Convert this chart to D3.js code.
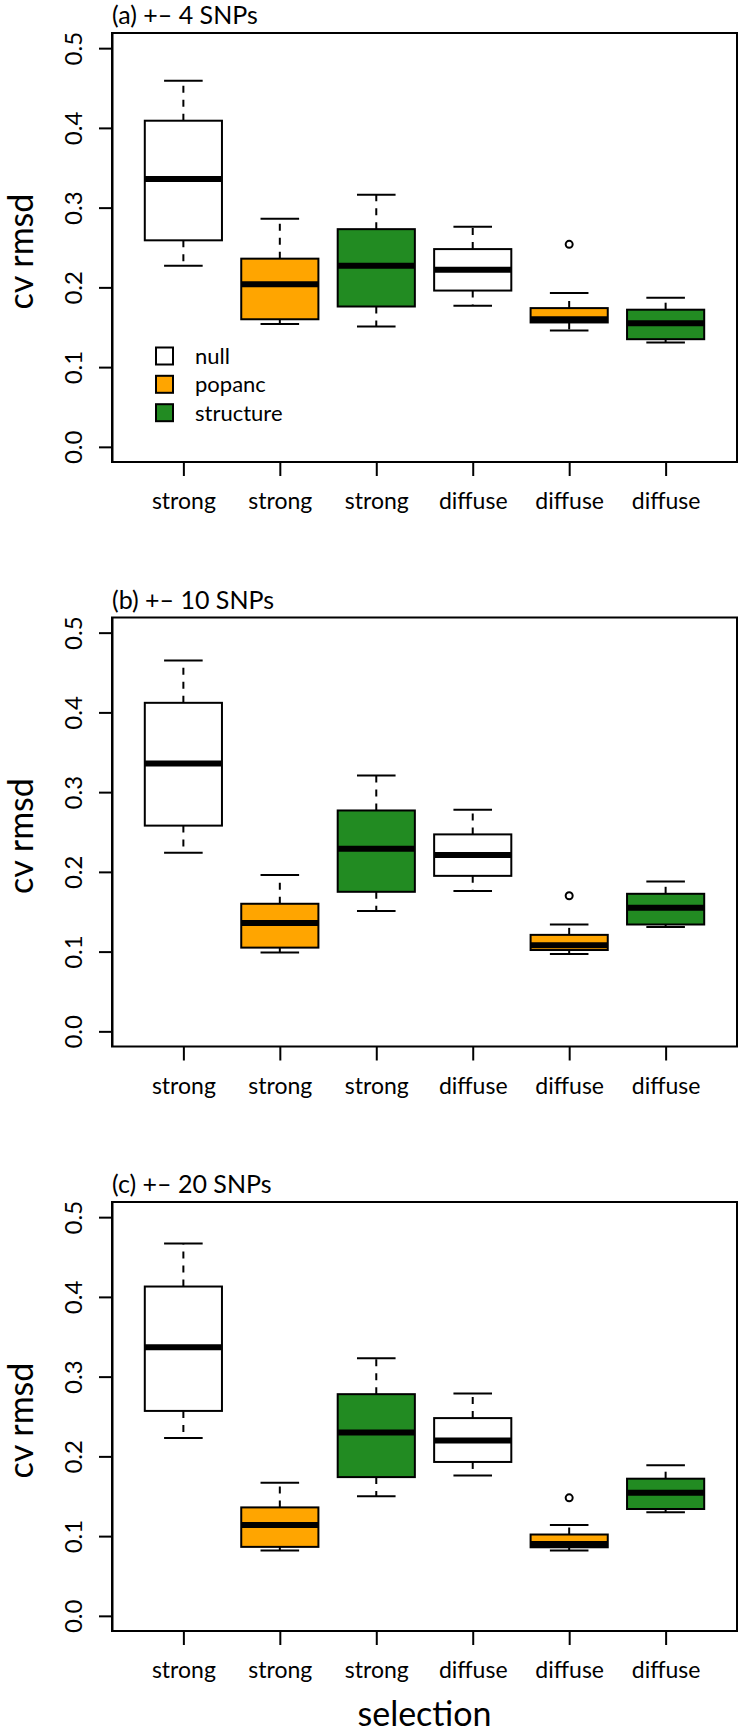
<!DOCTYPE html>
<html>
<head>
<meta charset="utf-8">
<script src="https://cdn.jsdelivr.net/npm/d3@7"></script>
<style>
  html, body { margin: 0; padding: 0; background: #fff; }
  svg { display: block; }
  text { font-family: Lato, "Open Sans", sans-serif; fill: #000; }
</style>
</head>
<body>
<svg id="chart" width="741" height="1733"></svg>
<script>
// ---- data ----
const categories = ["strong", "strong", "strong", "diffuse", "diffuse", "diffuse"];
const methods = ["null", "popanc", "structure", "null", "popanc", "structure"];
const legendLabels = ["null", "popanc", "structure"];
const panelTitles = ["(a) +\u2013 4 SNPs", "(b) +\u2013 10 SNPs", "(c) +\u2013 20 SNPs"];
const yTicks = [0.0, 0.1, 0.2, 0.3, 0.4, 0.5];
const yTickLabels = ["0.0", "0.1", "0.2", "0.3", "0.4", "0.5"];
const yLabel = "cv rmsd";
const xLabel = "selection";

// panel (a) +- 4 SNPs
const aLow  = [0.227, 0.154, 0.151, 0.177, 0.146, 0.131];
const aQ1   = [0.259, 0.160, 0.176, 0.196, 0.156, 0.135];
const aMed  = [0.336, 0.204, 0.227, 0.222, 0.160, 0.155];
const aQ3   = [0.409, 0.236, 0.273, 0.248, 0.174, 0.172];
const aHigh = [0.459, 0.286, 0.316, 0.276, 0.193, 0.187];
const aOut  = [[], [], [], [], [0.254], []];

// panel (b) +- 10 SNPs
const bLow  = [0.224, 0.099, 0.151, 0.176, 0.097, 0.131];
const bQ1   = [0.258, 0.105, 0.175, 0.195, 0.102, 0.134];
const bMed  = [0.336, 0.136, 0.229, 0.221, 0.108, 0.155];
const bQ3   = [0.412, 0.160, 0.277, 0.247, 0.121, 0.1725];
const bHigh = [0.465, 0.196, 0.321, 0.278, 0.134, 0.188];
const bOut  = [[], [], [], [], [0.170], []];

// panel (c) +- 20 SNPs
const cLow  = [0.223, 0.082, 0.150, 0.176, 0.082, 0.130];
const cQ1   = [0.257, 0.0865, 0.174, 0.193, 0.086, 0.134];
const cMed  = [0.337, 0.114, 0.230, 0.220, 0.090, 0.1545];
const cQ3   = [0.413, 0.136, 0.278, 0.248, 0.102, 0.172];
const cHigh = [0.467, 0.167, 0.323, 0.279, 0.114, 0.189];
const cOut  = [[], [], [], [], [0.148], []];

// ---- build ----
const colorOf = { "null": "#ffffff", "popanc": "#ffa500", "structure": "#228b22" };

function makeBoxes(low, q1, med, q3, high, out) {
  return categories.map((c, i) => ({
    idx: i + 1, cat: c, method: methods[i],
    low: low[i], q1: q1[i], med: med[i], q3: q3[i], high: high[i], out: out[i]
  }));
}
const panels = [
  { title: panelTitles[0], boxes: makeBoxes(aLow, aQ1, aMed, aQ3, aHigh, aOut), legend: true },
  { title: panelTitles[1], boxes: makeBoxes(bLow, bQ1, bMed, bQ3, bHigh, bOut), legend: false },
  { title: panelTitles[2], boxes: makeBoxes(cLow, cQ1, cMed, cQ3, cHigh, cOut), legend: false }
];

const svg = d3.select("#chart");
const left = 112, right = 737, plotH = 429;
const panelTops = [33, 617.5, 1202];

const x = d3.scaleLinear().domain([0.26, 6.74]).range([left, right]);
const boxHalf = 0.4, capHalf = 0.2;

panels.forEach((p, pi) => {
  const top = panelTops[pi];
  const y = d3.scaleLinear().domain([-0.019, 0.519]).range([top + plotH, top]);
  const g = svg.append("g");

  // title
  g.append("text")
    .attr("x", left).attr("y", top - 9)
    .attr("font-size", 25)
    .text(p.title);

  // y axis
  const yAxis = d3.axisLeft(y).tickValues(yTicks)
    .tickFormat((d, i) => yTickLabels[i]).tickSize(13).tickSizeOuter(0);
  const ya = g.append("g").attr("transform", `translate(${left},0)`).call(yAxis);
  ya.select(".domain").attr("stroke-width", 2).attr("stroke", "#000");
  ya.selectAll(".tick line").attr("stroke-width", 2).attr("stroke", "#000");
  ya.selectAll(".tick text")
    .attr("font-size", 24)
    .attr("font-family", "Lato, sans-serif")
    .attr("fill", "#000")
    .attr("x", 0).attr("dy", 0)
    .attr("text-anchor", "middle")
    .attr("transform", "translate(-30,0) rotate(-90)");

  // x axis
  const xAxis = d3.axisBottom(x).tickValues(p.boxes.map(b => b.idx))
    .tickFormat((d, i) => categories[i]).tickSize(14).tickSizeOuter(0);
  const xa = g.append("g").attr("transform", `translate(0,${top + plotH})`).call(xAxis);
  xa.select(".domain").remove();
  xa.selectAll(".tick line").attr("stroke-width", 2).attr("stroke", "#000");
  xa.selectAll(".tick text")
    .attr("font-size", 23)
    .attr("font-family", "Lato, sans-serif")
    .attr("fill", "#000")
    .attr("y", 47).attr("dy", 0);

  // y label
  g.append("text")
    .attr("transform", `translate(33,${top + plotH / 2 + 4}) rotate(-90)`)
    .attr("text-anchor", "middle")
    .attr("font-size", 34)
    .text(yLabel);

  // boxes
  const bx = g.selectAll(".bx").data(p.boxes).enter().append("g");
  // whiskers (dashed) from box edges outward
  bx.append("line")
    .attr("x1", d => x(d.idx)).attr("x2", d => x(d.idx))
    .attr("y1", d => y(d.q3)).attr("y2", d => y(d.high))
    .attr("stroke", "#000").attr("stroke-width", 2).attr("stroke-dasharray", "7,7");
  bx.append("line")
    .attr("x1", d => x(d.idx)).attr("x2", d => x(d.idx))
    .attr("y1", d => y(d.q1)).attr("y2", d => y(d.low))
    .attr("stroke", "#000").attr("stroke-width", 2).attr("stroke-dasharray", "7,7");
  // caps
  bx.append("line")
    .attr("x1", d => x(d.idx - capHalf)).attr("x2", d => x(d.idx + capHalf))
    .attr("y1", d => y(d.high)).attr("y2", d => y(d.high))
    .attr("stroke", "#000").attr("stroke-width", 2);
  bx.append("line")
    .attr("x1", d => x(d.idx - capHalf)).attr("x2", d => x(d.idx + capHalf))
    .attr("y1", d => y(d.low)).attr("y2", d => y(d.low))
    .attr("stroke", "#000").attr("stroke-width", 2);
  // box
  bx.append("rect")
    .attr("x", d => x(d.idx - boxHalf))
    .attr("width", d => x(d.idx + boxHalf) - x(d.idx - boxHalf))
    .attr("y", d => y(d.q3))
    .attr("height", d => y(d.q1) - y(d.q3))
    .attr("fill", d => colorOf[d.method])
    .attr("stroke", "#000").attr("stroke-width", 2);
  // median
  bx.append("line")
    .attr("x1", d => x(d.idx - boxHalf)).attr("x2", d => x(d.idx + boxHalf))
    .attr("y1", d => y(d.med)).attr("y2", d => y(d.med))
    .attr("stroke", "#000").attr("stroke-width", 6);
  // outliers
  bx.selectAll(".out").data(d => d.out.map(v => ({ idx: d.idx, v }))).enter()
    .append("circle")
    .attr("cx", d => x(d.idx)).attr("cy", d => y(d.v))
    .attr("r", 3.5).attr("fill", "none").attr("stroke", "#000").attr("stroke-width", 2);

  // plot frame
  g.append("rect")
    .attr("x", left).attr("y", top)
    .attr("width", right - left).attr("height", plotH)
    .attr("fill", "none").attr("stroke", "#000").attr("stroke-width", 2);

  // legend
  if (p.legend) {
    const ly = [356, 384.3, 412.7].map(v => v - 33 + top);
    const lg = g.selectAll(".lg").data(legendLabels).enter().append("g");
    lg.append("rect")
      .attr("x", 156).attr("y", (d, i) => ly[i] - 8.5)
      .attr("width", 17).attr("height", 17)
      .attr("fill", d => colorOf[d]).attr("stroke", "#000").attr("stroke-width", 2);
    lg.append("text")
      .attr("x", 195).attr("y", (d, i) => ly[i] + 8)
      .attr("font-size", 22)
      .text(d => d);
  }
});

// x label
svg.append("text")
  .attr("x", (left + right) / 2).attr("y", 1726)
  .attr("text-anchor", "middle")
  .attr("font-size", 34)
  .text(xLabel);
</script>
</body>
</html>
